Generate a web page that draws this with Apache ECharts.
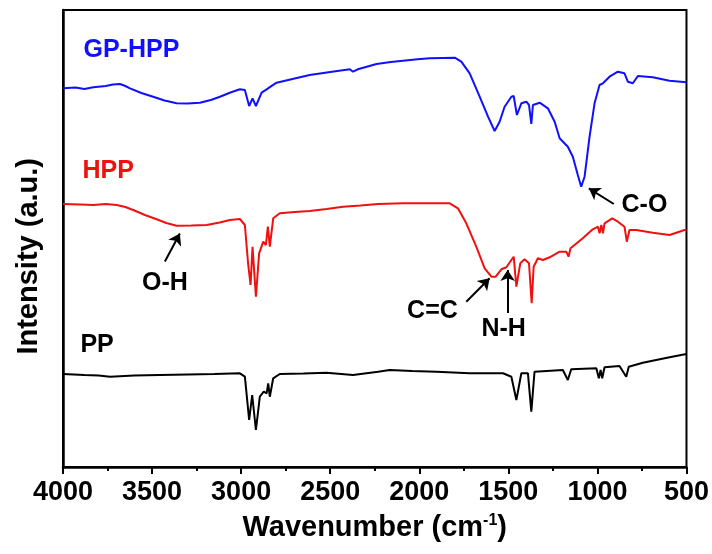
<!DOCTYPE html>
<html>
<head>
<meta charset="utf-8">
<script src="https://cdn.jsdelivr.net/npm/echarts@6/dist/echarts.min.js"></script>
<style>
  html, body { margin: 0; padding: 0; background: #fff; }
  #chart { width: 712px; height: 554px; }
</style>
</head>
<body>
<div id="chart"></div>
<script>
// FTIR spectra, offset vertically (arbitrary units). Each point: [wavenumber cm^-1, intensity]
const gpHpp = [
  [4000, 378.7], [3930, 379.5], [3880, 378], [3830, 379.7], [3760, 381], [3720, 382.5], [3680, 383],
  [3650, 381], [3624, 378.7], [3560, 374], [3494, 370.3], [3430, 366.5], [3362, 363.7], [3300, 363.5],
  [3232, 364.3], [3170, 367], [3119, 370.3], [3060, 374.5], [3007, 377.7], [2979, 377],
  [2955, 361], [2936, 368.7], [2917, 361], [2885, 374.3], [2857, 377.7], [2835, 380.3],
  [2801, 384.3], [2700, 388.5], [2615, 392], [2500, 395], [2390, 397.7], [2372, 395.3],
  [2345, 397.7], [2240, 403], [2160, 405], [2091, 406.3], [2010, 407.8], [1941, 408.7],
  [1870, 409], [1801, 409.3], [1764, 405.3], [1717, 393.7], [1661, 370.3], [1614, 350.3],
  [1577, 336], [1549, 345.3], [1521, 360.3], [1483, 370.3], [1470, 371], [1452, 352],
  [1427, 363.7], [1399, 365.3], [1384, 362], [1371, 343], [1362, 362], [1324, 364.3],
  [1278, 358.7], [1240, 345.3], [1212, 328.7], [1166, 320.3], [1138, 310.3], [1110, 292],
  [1091, 280.3], [1072, 290.3], [1044, 330.3], [1016, 363.7], [988, 382], [969, 383.7],
  [932, 390.3], [885, 395.3], [848, 393.7], [829, 385.3], [801, 383.7], [773, 391],
  [689, 389.7], [595, 386.3], [500, 384.7]
];

const hpp = [
  [4000, 263], [3900, 262.5], [3830, 262], [3760, 263], [3699, 262], [3650, 260], [3606, 257],
  [3540, 252], [3474, 247.7], [3420, 244], [3362, 241.3], [3280, 241.5], [3194, 242],
  [3120, 244.5], [3063, 247], [3007, 248], [2979, 242], [2961, 203.7], [2947, 182],
  [2936, 220.3], [2917, 170.3], [2899, 213.7], [2876, 225.3], [2861, 222], [2850, 240.3],
  [2839, 220.3], [2820, 248.7], [2783, 253.7], [2700, 255], [2615, 256], [2520, 258],
  [2428, 260.3], [2330, 261.5], [2231, 263], [2091, 263.7], [1960, 263.7], [1829, 263.7],
  [1783, 258.7], [1736, 243.7], [1680, 220.3], [1633, 198.7], [1595, 190.3], [1571, 190.3],
  [1539, 197.7], [1511, 199.7], [1483, 207], [1470, 210.3], [1455, 180.3], [1433, 203.7],
  [1409, 207.7], [1384, 203.7], [1369, 163.7], [1358, 200.3], [1334, 208.7], [1306, 207],
  [1268, 209.7], [1212, 215.3], [1175, 215.3], [1162, 210.3], [1151, 218.7], [1082, 228.7],
  [1026, 237.7], [997, 240.3], [988, 233.7], [978, 242], [969, 233.7], [960, 243.7],
  [917, 248.7], [885, 245.3], [848, 240.3], [835, 225.3], [820, 237], [782, 237],
  [689, 234.3], [595, 232], [511, 237], [500, 237]
];

const pp = [
  [4000, 93], [3880, 92], [3800, 91.5], [3736, 90.3], [3600, 91.5], [3456, 92], [3300, 92.5],
  [3150, 93], [3007, 93.7], [2979, 90.3], [2955, 47], [2938, 72], [2917, 37], [2895, 70.3],
  [2873, 75.3], [2857, 73.7], [2848, 83.7], [2839, 70.3], [2820, 88.7], [2783, 93],
  [2650, 93.5], [2521, 94.3], [2372, 92], [2231, 95.3], [2166, 97], [2040, 96], [1904, 95.3],
  [1717, 93.7], [1530, 93.7], [1483, 90.3], [1455, 67], [1427, 93.7], [1390, 93.7],
  [1371, 55.3], [1353, 95.3], [1194, 97], [1166, 87], [1147, 97.7], [1006, 98.7], [992, 88.7],
  [982, 97], [973, 88.7], [960, 99.7], [876, 101], [838, 90.3], [824, 100.3], [745, 104.3],
  [670, 107], [595, 109.7], [500, 113]
];

// Band assignments: label, label position, arrow tail, arrow head
const bandNames = ['O-H', 'C=C', 'N-H', 'C-O'];
const bandLabelAt = [[3428, 184], [1926, 155.5], [1526, 137.5], [736, 262]];
const bandArrowFrom = [[3428, 205.5], [1736, 165.3], [1504, 154], [908, 263]];
const bandArrowTo = [[3344, 233.5], [1605, 188.7], [1504, 197], [1048, 278.7]];

// Sample names placed next to each trace
const sampleNames = ['GP-HPP', 'HPP', 'PP'];
const sampleLabelAt = [[3888, 417], [3893, 295.5], [3905, 122]];
const sampleColors = ['#1010ff', '#f01010', '#000000'];

const xTicks = [500, 1000, 1500, 2000, 2500, 3000, 3500, 4000];

const FONT = '"Liberation Sans", Arial, Helvetica, sans-serif';

const chart = echarts.init(document.getElementById('chart'), null, { renderer: 'canvas' });

function nameMark(i) {
  return {
    silent: true,
    symbol: 'circle',
    symbolSize: 1,
    itemStyle: { color: 'transparent' },
    label: {
      show: true,
      position: 'right',
      distance: 0,
      formatter: sampleNames[i],
      color: sampleColors[i],
      fontFamily: FONT,
      fontWeight: 'bold',
      fontSize: 25
    },
    data: [{ coord: sampleLabelAt[i] }]
  };
}

const bandTextMarks = {
  silent: true,
  symbol: 'circle',
  symbolSize: 1,
  itemStyle: { color: 'transparent' },
  label: {
    show: true,
    position: 'inside',
    color: '#000',
    fontFamily: FONT,
    fontWeight: 'bold',
    fontSize: 25,
    formatter: p => p.name
  },
  data: bandNames.map((n, i) => ({ name: n, coord: bandLabelAt[i] }))
};

const bandArrows = {
  silent: true,
  symbol: ['none', 'arrow'],
  symbolSize: 11,
  label: { show: false },
  lineStyle: { color: '#000', width: 2, type: 'solid' },
  itemStyle: { color: '#000' },
  data: bandNames.map((n, i) => [{ coord: bandArrowFrom[i] }, { coord: bandArrowTo[i] }])
};

const lineSeries = (name, data, i, extra) => Object.assign({
  name: name,
  type: 'line',
  data: data,
  showSymbol: false,
  symbol: 'none',
  lineStyle: { color: sampleColors[i], width: 2 },
  itemStyle: { color: sampleColors[i] },
  animation: false,
  z: 3,
  markPoint: nameMark(i)
}, extra || {});

chart.setOption({
  animation: false,
  backgroundColor: '#fff',
  grid: {
    left: 63, right: 25, top: 10, bottom: 87,
    show: true, borderColor: '#000', borderWidth: 2, backgroundColor: 'transparent'
  },
  xAxis: {
    type: 'value',
    inverse: true,
    min: 500,
    max: 4000,
    interval: 500,
    name: 'Wavenumber (cm{sup|-1})',
    nameLocation: 'middle',
    nameGap: 46,
    nameTextStyle: {
      color: '#000', fontFamily: FONT, fontWeight: 'bold', fontSize: 29,
      rich: {
        sup: { fontFamily: FONT, fontWeight: 'bold', fontSize: 16, color: '#000', verticalAlign: 'top', padding: [0, 0, 14, 0] }
      }
    },
    axisLine: { show: true, onZero: false, lineStyle: { color: '#000', width: 2.5 } },
    axisTick: { show: true, inside: false, length: 7, lineStyle: { color: '#000', width: 2 } },
    minorTick: { show: true, splitNumber: 2, length: 4, lineStyle: { color: '#000', width: 2 } },
    axisLabel: {
      show: true, margin: 12, color: '#000', fontFamily: FONT, fontWeight: 'bold', fontSize: 27,
      formatter: v => (xTicks.indexOf(v) >= 0 ? String(v) : '')
    },
    splitLine: { show: false }
  },
  yAxis: {
    type: 'value',
    min: 0,
    max: 457,
    axisLine: { show: true, lineStyle: { color: '#000', width: 2.5 } },
    axisTick: { show: false },
    axisLabel: { show: false },
    splitLine: { show: false }
  },
  graphic: [{
    type: 'text',
    left: 14,
    top: 158,
    rotation: Math.PI / 2,
    style: {
      text: 'Intensity (a.u.)',
      fill: '#000',
      font: 'bold 29px ' + FONT
    }
  }],
  series: [
    lineSeries('GP-HPP', gpHpp, 0, { markLine: bandArrows }),
    lineSeries('HPP', hpp, 1),
    lineSeries('PP', pp, 2),
    {
      name: 'bands',
      type: 'line',
      data: [],
      markPoint: bandTextMarks
    }
  ]
});
</script>
</body>
</html>
